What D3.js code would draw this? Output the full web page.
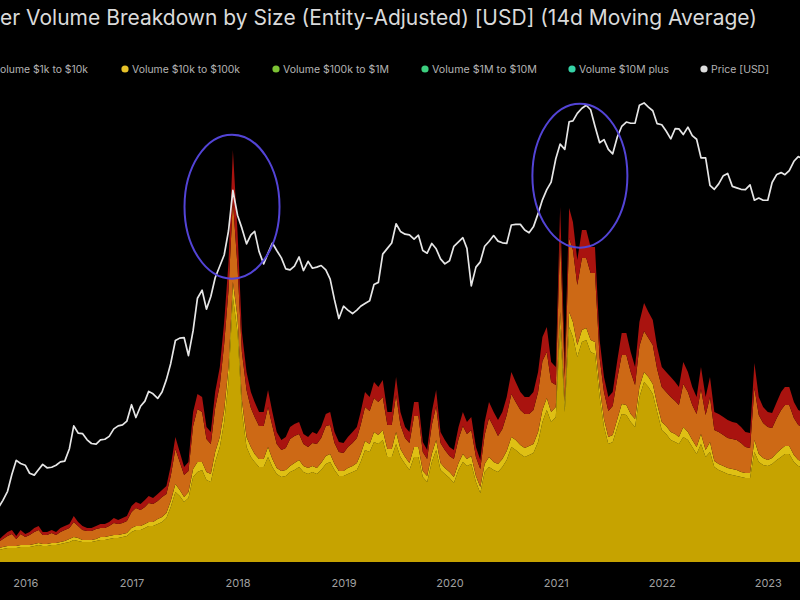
<!DOCTYPE html>
<html>
<head>
<meta charset="utf-8">
<script src="https://cdn.jsdelivr.net/npm/d3@7"></script>
<style>
  html, body { margin: 0; padding: 0; background: #000; }
  svg { display: block; }
</style>
</head>
<body>
<svg id="chart" width="800" height="600"></svg>
<script>
// ---------------- DATA ----------------
const titleText = "er Volume Breakdown by Size (Entity-Adjusted) [USD] (14d Moving Average)";
const legendLabels = ["olume $1k to $10k", "Volume $10k to $100k", "Volume $100k to $1M", "Volume $1M to $10M", "Volume $10M plus", "Price [USD]"];
const tickYears = [2016, 2017, 2018, 2019, 2020, 2021, 2022, 2023];

// semi-monthly observations (1st and 16th), starting Oct 2015
const firstYear = 2015, firstMonth = 9, nPoints = 183;

const price = [
  240,265,300,380,460,440,
  430,385,375,405,435,415,418,430,450,455,540,740,670,665,610,580,575,610,615,640,710,740,750,790,
  990,830,970,1040,1190,1150,1080,1180,1400,1750,2400,2480,2500,1950,2750,4300,4800,3700,4400,5700,6700,7800,10900,19000,
  13500,11300,9100,10300,10800,8200,6900,8000,9200,8300,7500,6450,6350,6700,7600,6300,7150,6500,6600,6750,6350,5600,4200,3250,
  3850,3650,3480,3650,3850,4000,4150,5200,5350,7900,8550,9200,12000,10800,10400,10300,9700,10250,8300,8000,9150,8500,7400,6900,
  7200,8800,9350,9900,8550,5100,6600,7100,8800,9400,10200,9450,9230,9150,11800,11900,11900,11000,10600,11500,13800,16700,19200,21300,
  29400,36000,33500,49000,49600,55000,59000,61500,57800,46000,36700,38300,33500,31500,39800,45900,48800,48000,48100,61500,63500,60000,57000,47700,
  47000,43100,38700,44500,44400,41100,45500,40500,38500,29800,29800,20400,19300,20800,23300,24000,20100,19700,19300,19200,20500,16600,17100,16600,
  16600,21200,23700,24300,23600,25000,28400,30300,29500
];

// stacked volume layers (arbitrary USD units)
const volBase = [
  12,13,14,14,14,15,15,15,16,17, 16,16,17,17,18,19,20,22,21,20, 20,20,21,22,22,23,24,24,25,26,
  30,32,32,34,36,36,38,40,44,55, 70,66,60,64,85,90,92,82,80,100, 115,140,180,265,230,150,115,105,100,95,
  95,105,95,88,85,86,90,92,95,90, 88,90,88,92,98,100,92,86,86,88, 90,92,100,112,110,120,118,122,105,105,
  118,105,98,92,105,105,85,80,100,112, 92,88,84,79,92,100,96,98,80,69, 90,95,92,90,95,102,115,112,108,105,
  107,109,120,140,152,140,145,235,150,235, 225,205,220,222,210,208,165,135,118,120, 135,148,147,140,135,165,180,175,168,150,
  132,128,122,120,118,125,122,115,108,118, 105,110,95,92,90,88,87,86,85,84, 84,110,100,97,96,98,102,105,108,108,
  100,96,95
];
const volMid = [
  2,2,2,2,2,2,2,2,2,2, 2,2,2,2,2,2,3,3,3,2, 2,2,2,3,3,3,3,3,3,3,
  4,4,4,4,4,4,5,5,5,6, 8,6,5,6,8,10,8,8,8,10, 10,12,15,15,15,12,10,10,8,8,
  8,10,8,6,6,6,6,7,7,6, 6,6,6,7,8,8,6,5,5,6, 6,7,8,9,8,10,9,10,8,8,
  12,8,7,7,10,10,6,6,8,10, 7,6,6,6,7,8,7,8,6,6, 8,10,8,8,8,9,10,10,9,9,
  9,9,10,12,12,10,10,15,10,15, 15,12,12,12,12,12,10,8,7,7, 8,10,10,8,8,10,10,10,10,8,
  8,8,8,8,7,10,8,7,7,10, 7,10,6,6,6,6,6,6,5,5, 5,12,8,7,6,6,7,8,8,8,
  7,6,6
];
const volUpper = [
  6,8,10,12,7,11,8,10,12,13, 9,9,10,8,10,11,11,15,12,10, 9,9,10,9,9,10,12,11,11,12,
  16,18,16,17,19,18,18,20,19,25, 35,28,22,21,43,53,50,33,30,44, 52,66,77,82,50,48,47,39,37,33,
  33,40,33,24,21,22,27,27,26,22, 21,23,24,25,30,29,21,19,18,21, 23,25,29,34,33,34,33,33,24,24,
  37,24,19,20,31,31,19,17,29,34, 20,18,16,18,24,28,25,26,19,18, 29,39,35,28,30,36,43,38,35,34,
  32,34,40,49,46,30,22,75,25,74, 72,60,72,70,67,69,29,27,26,29, 41,49,50,42,34,41,41,39,39,35,
  35,34,35,33,32,43,40,35,33,45, 35,45,31,32,31,30,30,30,29,26, 25,52,39,35,33,30,35,39,41,41,
  37,35,34
];
const volTop = [
  2,3,4,4,3,4,3,3,4,4, 3,3,3,3,4,4,4,6,4,4, 3,3,3,4,4,4,5,4,5,5,
  6,6,6,7,7,6,7,7,8,10, 12,10,8,9,14,15,15,12,12,16, 18,22,28,50,35,20,18,16,15,14,
  14,17,14,12,10,11,12,12,12,10, 10,11,10,11,12,13,11,10,10,10, 11,11,13,15,14,16,15,17,13,13,
  18,13,11,11,14,14,10,9,13,16, 11,10,9,9,12,14,12,13,10,9, 13,16,15,16,17,18,22,20,18,17,
  17,18,20,24,25,20,18,30,15,30, 28,25,28,28,26,26,18,15,14,14, 18,22,22,20,18,24,28,26,25,22,
  20,20,20,19,18,22,20,18,17,22, 18,20,18,18,18,18,17,17,16,15, 15,25,18,16,15,15,16,18,18,18,
  16,15,15
];

// highlighted regions (centre date, centre price)
const highlights = [
  { date: "2017-12-13", price: 15200 },
  { date: "2021-03-25", price: 23300 }
];

// ---------------- LAYOUT / STYLE ----------------
const W = 800, H = 600;
const baseY = 562;
const layerColors = ["#c6a300", "#dfc014", "#cd6915", "#a9130f"];
const legendColors = [null, "#e6c229", "#7cc234", "#3ccf7f", "#35d2a6", "#dddddd"];
const legendTextX = [0, 132, 283, 432, 579, 711];
const legendTextW = [88, 108, 106, 105, 90, 58];
const legendY = 69;

const dates = d3.range(nPoints).map(i => new Date(firstYear, firstMonth + Math.floor(i / 2), i % 2 ? 16 : 1));
const rows = dates.map((d, i) => ({ date: d, base: volBase[i], mid: volMid[i], upper: volUpper[i], top: volTop[i] }));
const keys = ["base", "mid", "upper", "top"];

const svg = d3.select("#chart");
svg.append("rect").attr("width", W).attr("height", H).attr("fill", "#000");

const x = d3.scaleTime()
  .domain([new Date(2015, 9, 6), new Date(2023, 3, 22)])
  .range([0, W]);
const yVol = d3.scaleLinear().domain([0, 400]).range([baseY, 162]);
const yPrice = d3.scaleLog().domain([100, 100000]).range([571, 70]);

const clip = svg.append("clipPath").attr("id", "plotclip")
  .append("rect").attr("x", 0).attr("y", 40).attr("width", W).attr("height", baseY - 40 + 1);

const plot = svg.append("g").attr("clip-path", "url(#plotclip)");

// stacked areas
const series = d3.stack().keys(keys)(rows);
const area = d3.area()
  .x(d => x(d.data.date))
  .y0(d => yVol(d[0]))
  .y1(d => yVol(d[1]))
  .curve(d3.curveLinear);

plot.selectAll("path.layer")
  .data(series)
  .join("path")
  .attr("class", "layer")
  .attr("fill", (d, i) => layerColors[i])
  .attr("d", area);

// price line
const line = d3.line()
  .x((d, i) => x(dates[i]))
  .y(d => yPrice(d))
  .curve(d3.curveLinear);

plot.append("path")
  .datum(price)
  .attr("fill", "none")
  .attr("stroke", "#e6e6e6")
  .attr("stroke-width", 1.7)
  .attr("stroke-linejoin", "round")
  .attr("d", line);

// highlight ellipses
const parse = d3.timeParse("%Y-%m-%d");
svg.selectAll("ellipse.hl")
  .data(highlights)
  .join("ellipse")
  .attr("class", "hl")
  .attr("cx", d => x(parse(d.date)))
  .attr("cy", d => yPrice(d.price))
  .attr("rx", 47.5)
  .attr("ry", 72)
  .attr("fill", "none")
  .attr("stroke", "#5344d6")
  .attr("stroke-width", 2);

// x axis
const axis = d3.axisBottom(x)
  .tickValues(tickYears.map(y => new Date(y, 0, 1)))
  .tickFormat(d3.timeFormat("%Y"))
  .tickSize(0)
  .tickPadding(17);
const ax = svg.append("g").attr("transform", `translate(0,${baseY})`).call(axis);
ax.select(".domain").remove();
ax.selectAll("text")
  .attr("fill", "#a0a0a0")
  .style("font-family", "Inter, 'Noto Sans', sans-serif")
  .style("font-size", "11px");

// title
svg.append("text")
  .attr("x", 0)
  .attr("y", 25)
  .attr("fill", "#dadada")
  .attr("textLength", 757)
  .attr("lengthAdjust", "spacingAndGlyphs")
  .style("font-family", "Inter, 'Noto Sans', sans-serif")
  .style("font-size", "21px")
  .text(titleText);

// legend
const lg = svg.append("g");
legendLabels.forEach((lab, i) => {
  if (legendColors[i]) {
    lg.append("circle")
      .attr("cx", legendTextX[i] - 7)
      .attr("cy", legendY)
      .attr("r", 3.6)
      .attr("fill", legendColors[i]);
  }
  lg.append("text")
    .attr("x", legendTextX[i])
    .attr("y", legendY + 3.5)
    .attr("fill", "#b4b4b4")
    .attr("textLength", legendTextW[i])
    .attr("lengthAdjust", "spacingAndGlyphs")
    .style("font-family", "Inter, 'Noto Sans', sans-serif")
    .style("font-size", "10px")
    .text(lab);
});
</script>
</body>
</html>
